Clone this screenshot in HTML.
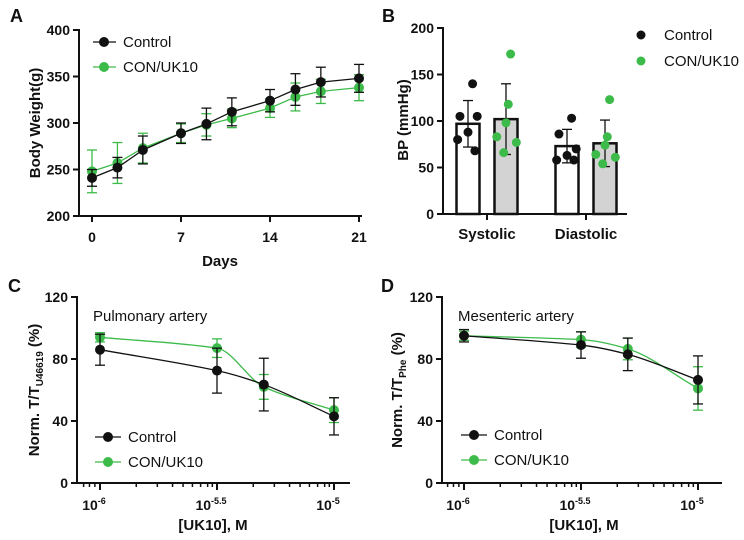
<!DOCTYPE html>
<html><head><meta charset="utf-8"><style>
body{margin:0;background:#fff;}
svg{display:block;font-family:"Liberation Sans",Arial,sans-serif;}
.tk{font-size:14px;font-weight:bold;fill:#111;}
.ttl{font-size:15px;font-weight:bold;fill:#111;}
.leg{font-size:15px;fill:#111;}
.pl{font-size:18px;font-weight:bold;fill:#111;}
</style></head><body>
<svg id="fig" width="744" height="540" viewBox="0 0 744 540"></svg>
<script>
// ---- Panel A data ----
const daysA = [0,2,4,7,9,11,14,16,18,21];
const ctrlA = [241,252,271,289,299,312,324,336,344,348];
const ctrlAerr = [9,11,15,11,17,15,12,17,16,15];
const ukA = [248,257,273,289,298,305,316,328,334,338];
const ukAerr = [23,22,16,10,12,10,10,15,13,14];
const ticksAx = [0,7,14,21];
const ticksAy = [200,250,300,350,400];
// ---- Panel B data ----
const groupsB = ["Systolic","Diastolic"];
const ctrlBmean = [97,73];
const ctrlBsd = [25,18];
const ukBmean = [102,76];
const ukBsd = [38,25];
const ctrlBpts = [[140,105,105,88,80,68],[103,86,70,63,58,58]];
const ukBpts = [[172,118,98,83,77,66],[123,83,74,64,61,54]];
const ticksBy = [0,50,100,150,200];
// ---- Panel C/D data (log10 concentration) ----
const concLog = [-6,-5.5,-5.3,-5];
const ctrlC = [86,72.5,63.5,43];
const ctrlCerr = [10,14.5,17,12];
const ukC = [94,87,62,47];
const ukCerr = [3,6,8,8];
const ctrlD = [95,89,83,66.5];
const ctrlDerr = [4,8.5,10.5,15.5];
const ukD = [95,92.5,86.5,61];
const ukDerr = [3,5,7,14];
const ticksCy = [0,40,80,120];
const majorLog = [-6,-5.5,-5];
const majorLbl = ["-6","-5.5","-5"];

const G="#3dbb4a", K="#111";
const svg=document.getElementById('fig');
const NS="http://www.w3.org/2000/svg";
function el(tag,attrs,parent){const e=document.createElementNS(NS,tag);for(const k in attrs)e.setAttribute(k,attrs[k]);(parent||svg).appendChild(e);return e;}
function txt(x,y,s,cls,anchor,parent){const t=el('text',{x:x,y:y,class:cls,'text-anchor':anchor||'start'},parent);t.textContent=s;return t;}

function line(x1,y1,x2,y2,c,w,p){return el('line',{x1:x1,y1:y1,x2:x2,y2:y2,stroke:c,'stroke-width':w},p);}
function errbar(x,y1,y2,c,p){line(x,y1,x,y2,c,1.3,p);line(x-5,y1,x+5,y1,c,1.3,p);line(x-5,y2,x+5,y2,c,1.3,p);}
// monotone cubic (Fritsch-Carlson)
function smooth(pts){
 const n=pts.length,dx=[],m=[],t=[];
 for(let i=0;i<n-1;i++){dx[i]=pts[i+1][0]-pts[i][0];m[i]=(pts[i+1][1]-pts[i][1])/dx[i];}
 t[0]=m[0];t[n-1]=m[n-2];
 for(let i=1;i<n-1;i++){t[i]=(m[i-1]*m[i]<=0)?0:(dx[i-1]+dx[i])/((dx[i-1]*2+dx[i])/ (3*m[i-1]) + (dx[i-1]+2*dx[i])/(3*m[i]))*1;}
 let d="M"+pts[0][0]+","+pts[0][1];
 for(let i=0;i<n-1;i++){const h=dx[i]/3;d+=" C"+(pts[i][0]+h)+","+(pts[i][1]+t[i]*h)+" "+(pts[i+1][0]-h)+","+(pts[i+1][1]-t[i+1]*h)+" "+pts[i+1][0]+","+pts[i+1][1];}
 return d;}

// ===== Panel A =====
(function(){
 const g=el('g',{});
 
 
 const x=v=>92+(v-0)*(359-92)/21, y=v=>216-(v-200)*(216-30)/200;
 txt(10,22,"A",'pl','start',g);
 line(79,29,79,217,K,2,g); line(78,216,362,216,K,2,g);
 ticksAy.forEach(v=>{line(73,y(v),79,y(v),K,2,g);txt(70,y(v)+5,v,'tk','end',g);});
 ticksAx.forEach(v=>{line(x(v),216,x(v),222,K,2,g);txt(x(v),242,v,'tk','middle',g);});
 const xt=txt(220,266,"Days",'ttl','middle',g); 
 const yt=txt(0,0,"Body Weight(g)",'ttl','middle',g); yt.setAttribute('transform','translate(40,123) rotate(-90)'); 
 [[ukA,ukAerr,G,'series-con-uk10'],[ctrlA,ctrlAerr,K,'series-control']].forEach(([vals,err,c,nm])=>{
  const s=el('g',{},g);  
  vals.forEach((v,i)=>errbar(x(daysA[i]),y(v-err[i]),y(v+err[i]),c,s));
  el('polyline',{points:vals.map((v,i)=>x(daysA[i])+","+y(v)).join(" "),fill:'none',stroke:c,'stroke-width':1.3},s);
  vals.forEach((v,i)=>el('circle',{cx:x(daysA[i]),cy:y(v),r:5,fill:c},s));
 });
 [[42,K,"Control"],[67,G,"CON/UK10"]].forEach(([yy,c,l])=>{const lg=el('g',{},g);line(93,yy,116,yy,c,1.3,lg);el('circle',{cx:104,cy:yy,r:5,fill:c},lg);txt(123,yy+5,l,'leg','start',lg);});
})();

// ===== Panel B =====
(function(){
 const g=el('g',{});
 
 
 const y=v=>214-v*(214-28)/200;
 const centers=[487,586], off=[-19,19], bw=23;
 const jit=[[0.2,-0.35,0.4,0,-0.45,0.3],[0.2,0.1,0,-0.4,0.45,-0.1]];
 txt(382,22,"B",'pl','start',g);
 line(443,27,443,215,K,2,g); line(442,214,627,214,K,2,g);
 ticksBy.forEach(v=>{line(437,y(v),443,y(v),K,2,g);txt(434,y(v)+5,v,'tk','end',g);});
 groupsB.forEach((nm,i)=>{line(centers[i],214,centers[i],220,K,2,g);txt(centers[i],239,nm,'ttl','middle',g);});
 const yt=txt(0,0,"BP (mmHg)",'ttl','middle',g); yt.setAttribute('transform','translate(408,120) rotate(-90)'); 
 groupsB.forEach((nm,i)=>{
  [[ctrlBmean,ctrlBsd,ctrlBpts,'#fff',K,0],[ukBmean,ukBsd,ukBpts,'#d3d3d3',G,1]].forEach(([m,sd,pts,fill,dc,k])=>{
   const cx=centers[i]+off[k];
   const b=el('rect',{x:cx-bw/2,y:y(m[i]),width:bw,height:214-y(m[i]),fill:fill,stroke:K,'stroke-width':2.5},g);
   
   
   errbar(cx,y(m[i]-sd[i]),y(m[i]+sd[i]),K,g);
   pts[i].forEach((v,j)=>el('circle',{cx:cx+jit[k][j]*bw,cy:y(v),r:4.5,fill:dc},g));
  });
 });
 [[35,K,"Control"],[61,G,"CON/UK10"]].forEach(([yy,c,l])=>{const lg=el('g',{},g);el('circle',{cx:641,cy:yy,r:4.5,fill:c},lg);txt(664,yy+5,l,'leg','start',lg);});
})();

// ===== Panels C/D =====
function drawDose(cfg){
 const g=el('g',{});
 
 
 const x0=cfg.x1e6, x1=cfg.x1e5;
 const x=v=>x0+(v+6)*(x1-x0), y=v=>483-v*(483-297)/120;
 txt(cfg.lx,292,cfg.letter,'pl','start',g);
 line(cfg.ax,296,cfg.ax,484,K,2,g); line(cfg.ax-1,483,cfg.axEnd,483,K,2,g);
 ticksCy.forEach(v=>{line(cfg.ax-6,y(v),cfg.ax,y(v),K,2,g);txt(cfg.ax-9,y(v)+5,v,'tk','end',g);});
 const fr=[0.31,0.49,0.62,0.71,0.79,0.86,0.92,0.96];
 [-6,-5.5].forEach(b=>fr.forEach(f=>line(x(b+f*0.5),483,x(b+f*0.5),487,K,1.5,g)));
 [-0.07,-0.045,-0.022].forEach(f=>line(x(-6+f),483,x(-6+f),487,K,1.5,g));
 majorLog.forEach((v,i)=>{line(x(v),483,x(v),490,K,2,g);const t=txt(x(v)-6,510,"10",'tk','middle',g);const s=el('tspan',{dy:-6,'font-size':9},t);s.textContent=majorLbl[i];});
 const xt=txt(cfg.xtx,530,"[UK10], M",'ttl','middle',g); 
 const yt=txt(0,0,"Norm. T/T",'ttl','middle',g); yt.setAttribute('transform','translate('+cfg.ytx+',390) rotate(-90)'); 
 const sb=el('tspan',{dy:4,'font-size':10},yt); sb.textContent=cfg.sub;
 const sp=el('tspan',{dy:-4},yt); sp.textContent=" (%)";
 txt(cfg.ax+16,321,cfg.title,'leg','start',g);
 [[cfg.uk,cfg.ukErr,G,'series-con-uk10'],[cfg.ctrl,cfg.ctrlErr,K,'series-control']].forEach(([vals,err,c,nm])=>{
  const s=el('g',{},g);  
  vals.forEach((v,i)=>errbar(x(concLog[i]),y(v-err[i]),y(v+err[i]),c,s));
  el('path',{d:smooth(vals.map((v,i)=>[x(concLog[i]),y(v)])),fill:'none',stroke:c,'stroke-width':1.3},s);
  vals.forEach((v,i)=>el('circle',{cx:x(concLog[i]),cy:y(v),r:5,fill:c},s));
 });
 [[cfg.legY,K,"Control"],[cfg.legY+25,G,"CON/UK10"]].forEach(([yy,c,l])=>{const lg=el('g',{},g);line(cfg.legX,yy,cfg.legX+26,yy,c,1.3,lg);el('circle',{cx:cfg.legX+13,cy:yy,r:5,fill:c},lg);txt(cfg.legX+33,yy+5,l,'leg','start',lg);});
}
drawDose({name:'panel-c-pulmonary-artery',letter:'C',lx:8,ax:77,axEnd:350,x1e6:100,x1e5:334,xtx:213,ytx:39,sub:'U46619',title:'Pulmonary artery',ctrl:ctrlC,ctrlErr:ctrlCerr,uk:ukC,ukErr:ukCerr,legX:95,legY:437});
drawDose({name:'panel-d-mesenteric-artery',letter:'D',lx:381,ax:442,axEnd:722,x1e6:464,x1e5:698,xtx:584,ytx:402,sub:'Phe',title:'Mesenteric artery',ctrl:ctrlD,ctrlErr:ctrlDerr,uk:ukD,ukErr:ukDerr,legX:461,legY:435});
</script>
</body></html>
